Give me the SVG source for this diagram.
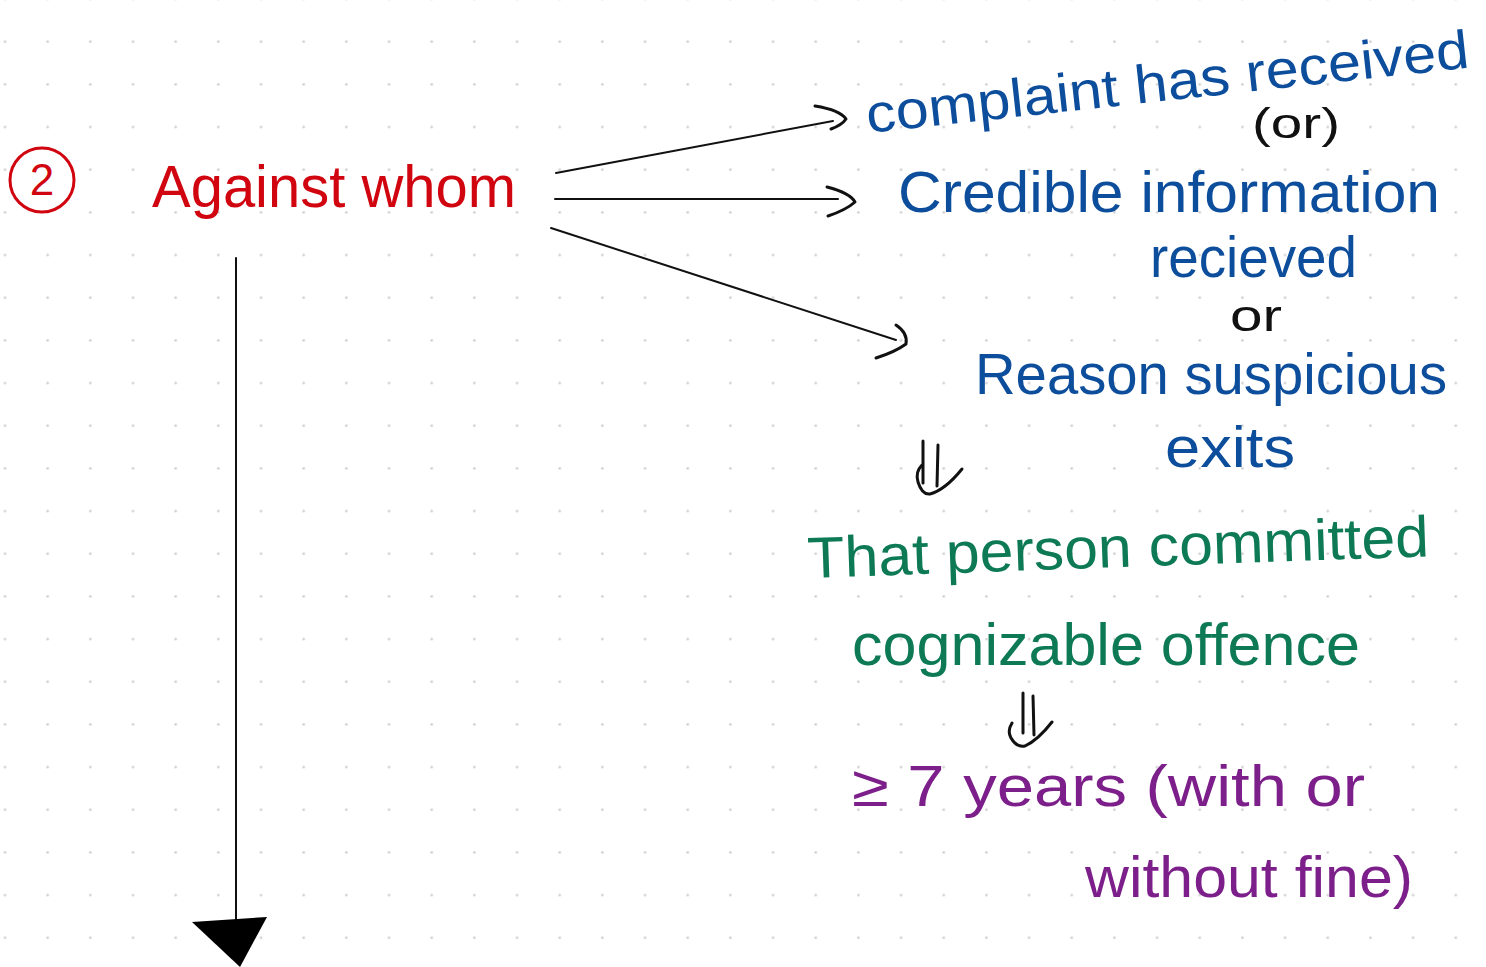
<svg xmlns="http://www.w3.org/2000/svg" width="1486" height="967" viewBox="0 0 1486 967">
<style>
  text { font-family: "Liberation Sans", "DejaVu Sans", sans-serif; }
  .red { fill: #d0050f; }
  .blue { fill: #0c4d9c; }
  .green { fill: #0d7a55; }
  .purple { fill: #7d1f8a; }
  .black { fill: #111111; }
  .line { stroke: #111111; stroke-width: 2; fill: none; stroke-linecap: round; }
  .head { stroke: #111111; stroke-width: 3; fill: none; stroke-linecap: round; stroke-linejoin: round; }
</style>
<defs>
  <pattern id="dots" x="-16.33" y="-22.33" width="42.67" height="42.67" patternUnits="userSpaceOnUse">
    <circle cx="21.33" cy="21.33" r="1.3" fill="#cdcdcd"/>
  </pattern>
</defs>
<rect width="1486" height="967" fill="#ffffff"/>
<rect width="1486" height="967" fill="url(#dots)"/>

<g id="connectors">
  <path class="line" d="M556,173 L833,121"/>
  <path class="head" d="M815,106 Q840,110 846,119 Q842,125 831,129"/>
  <path class="line" d="M555,199 L838,199"/>
  <path class="head" d="M827,187 Q850,193 855,202 Q846,210 828,216"/>
  <path class="line" d="M551,228 L896,340"/>
  <path class="head" d="M896,325 Q908,333 906,344 Q895,352 876,358"/>
  <path class="line" d="M236,258 L236,920"/>
  <polygon points="192,922 267,917 240,967" fill="#000000"/>
  <path class="head" d="M923,441 L923,483 M938,445 L937,486 M922,465 Q915,472 918,482 Q922,495 930,494 Q945,490 962,469"/>
  <path class="head" d="M1023,693 L1023,733 M1033,696 L1034,735 M1012,723 Q1007,731 1011,738 Q1017,748 1025,746 Q1038,740 1052,722"/>
</g>

<g id="node-number">
  <circle cx="42" cy="180" r="32" fill="none" stroke="#d0050f" stroke-width="3"/>
  <text class="red" x="42" y="195" font-size="44" text-anchor="middle">2</text>
</g>

<g id="node-against-whom">
  <text class="red" x="152" y="207" font-size="60" textLength="364" lengthAdjust="spacingAndGlyphs">Against whom</text>
</g>

<g id="node-complaint">
  <text class="blue" x="868" y="133" font-size="54" transform="rotate(-6.2 868 133)" textLength="606" lengthAdjust="spacingAndGlyphs">complaint has received</text>
</g>

<g id="node-or1">
  <text class="black" x="1252" y="138" font-size="42" textLength="88" lengthAdjust="spacingAndGlyphs">(or)</text>
</g>

<g id="node-credible">
  <text class="blue" x="898" y="212" font-size="58" textLength="542" lengthAdjust="spacingAndGlyphs">Credible information</text>
  <text class="blue" x="1150" y="277" font-size="58" textLength="207" lengthAdjust="spacingAndGlyphs">recieved</text>
</g>

<g id="node-or2">
  <text class="black" x="1230" y="331" font-size="44" textLength="52" lengthAdjust="spacingAndGlyphs">or</text>
</g>

<g id="node-reason">
  <text class="blue" x="975" y="394" font-size="58" textLength="472" lengthAdjust="spacingAndGlyphs">Reason suspicious</text>
  <text class="blue" x="1165" y="467" font-size="58" textLength="130" lengthAdjust="spacingAndGlyphs">exits</text>
</g>

<g id="node-person">
  <text class="green" x="808" y="578" font-size="58" transform="rotate(-2 808 578)" textLength="622" lengthAdjust="spacingAndGlyphs">That person committed</text>
  <text class="green" x="852" y="665" font-size="60" textLength="508" lengthAdjust="spacingAndGlyphs">cognizable offence</text>
</g>

<g id="node-years">
  <text class="purple" x="852" y="806" font-size="58" textLength="513" lengthAdjust="spacingAndGlyphs">≥ 7 years (with or</text>
  <text class="purple" x="1085" y="897" font-size="58" textLength="328" lengthAdjust="spacingAndGlyphs">without fine)</text>
</g>
</svg>
